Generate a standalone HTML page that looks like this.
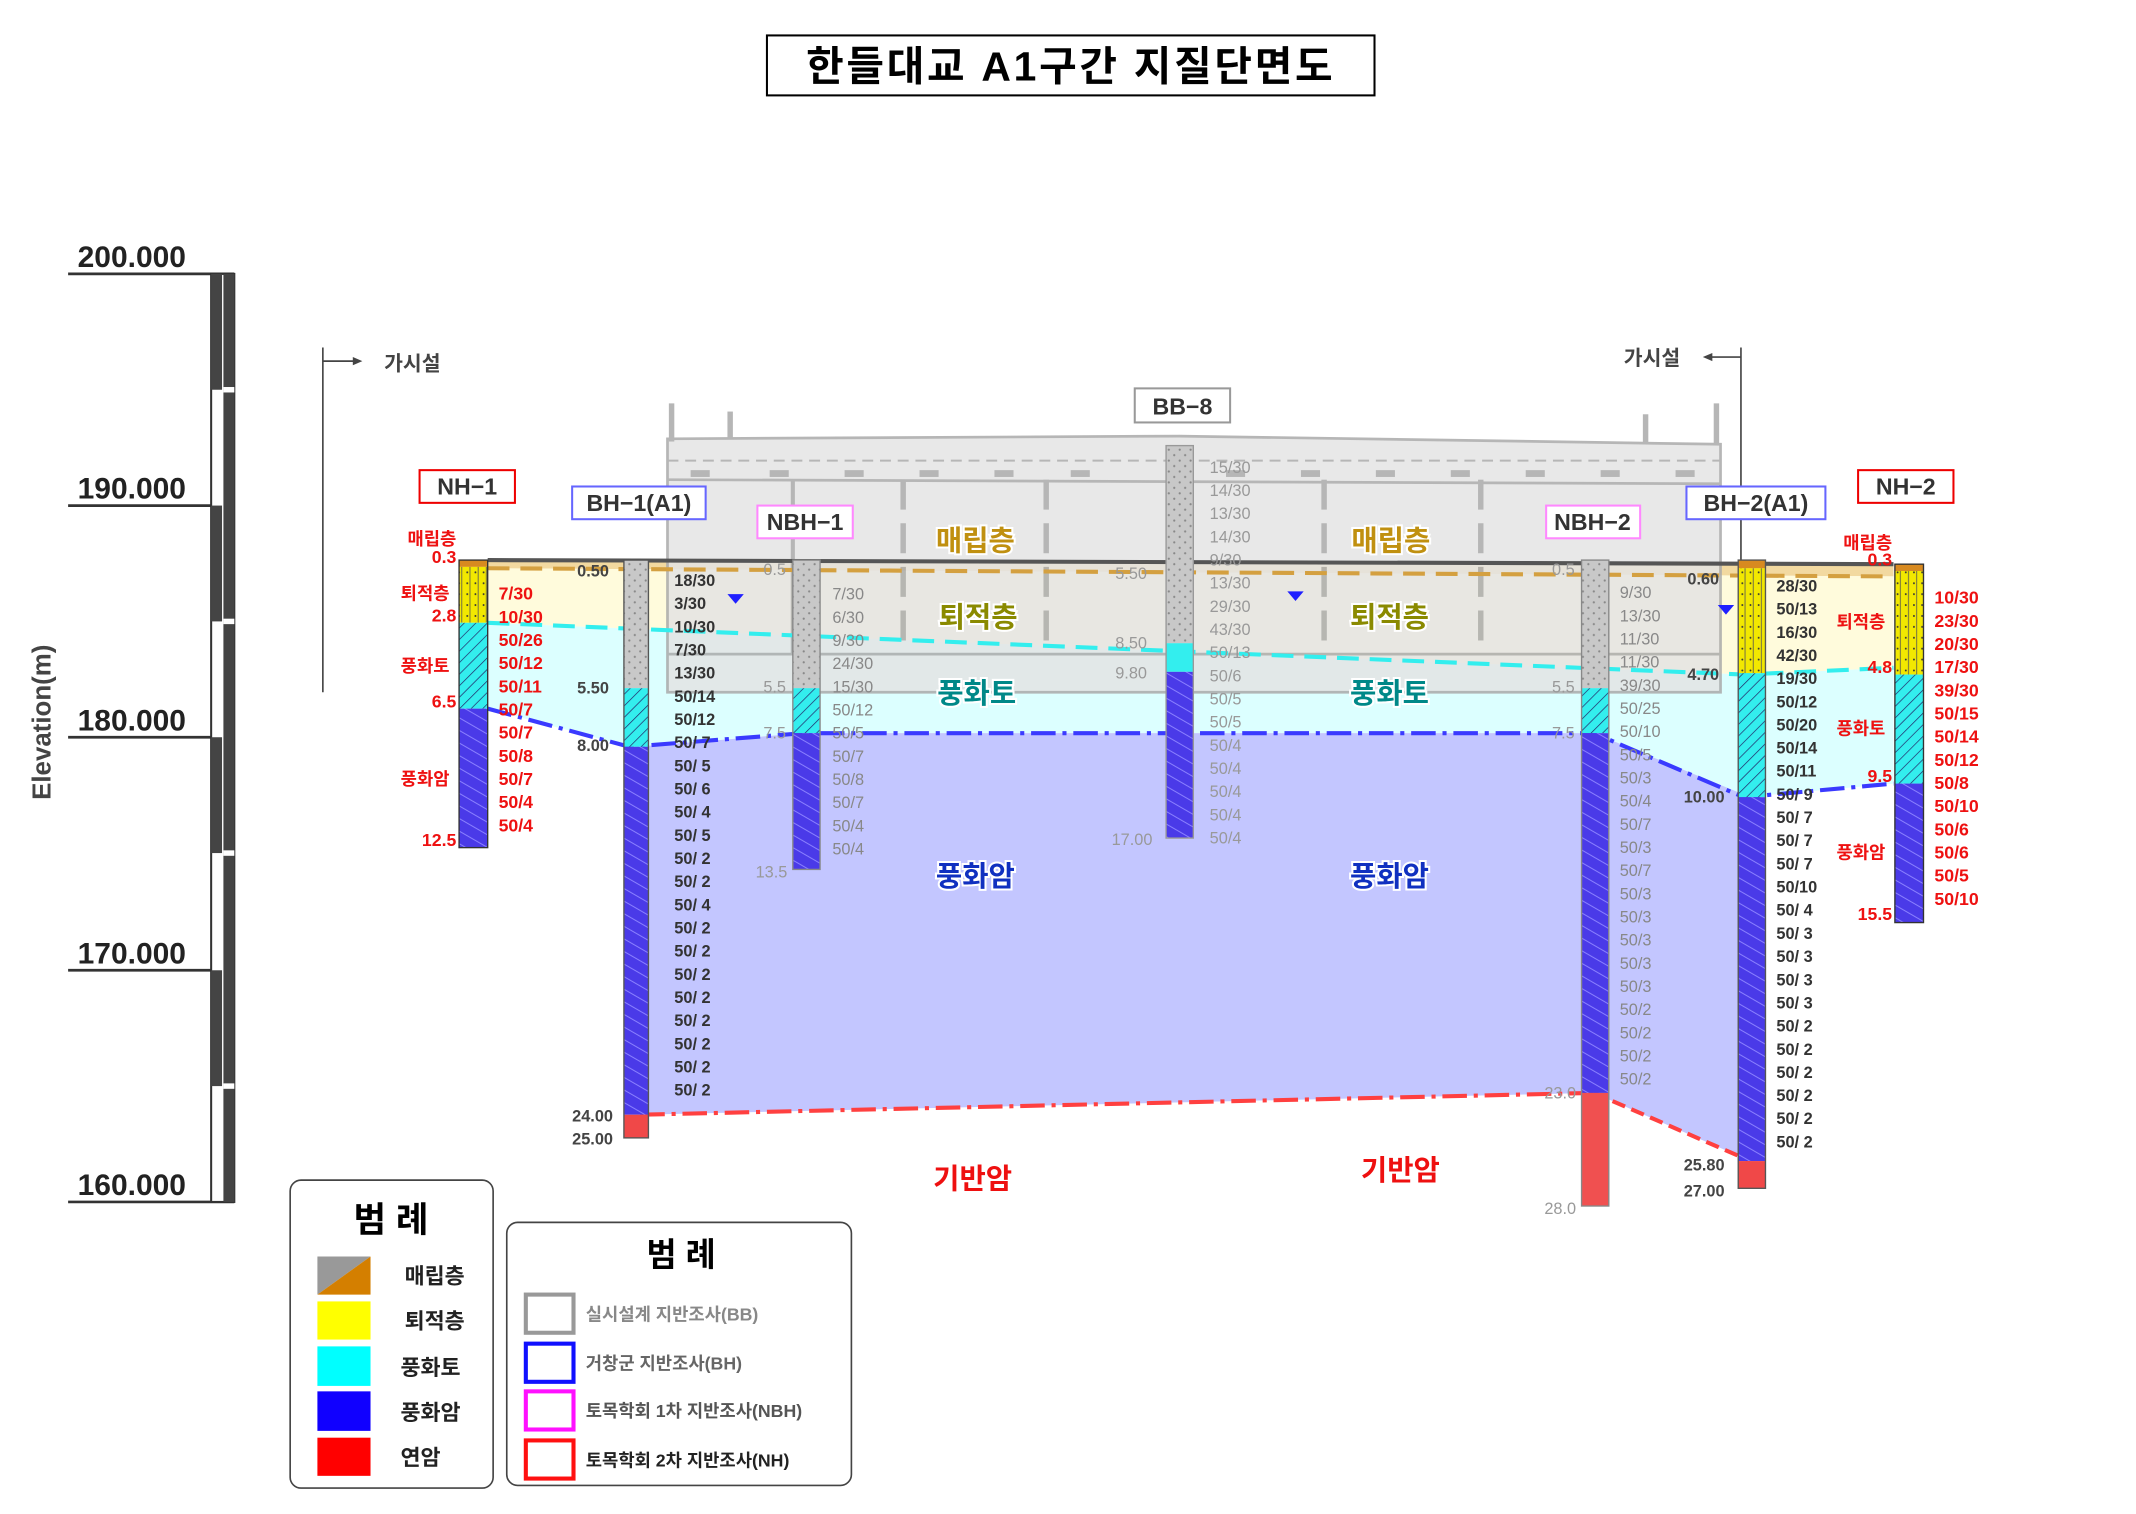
<!DOCTYPE html>
<html><head><meta charset="utf-8"><style>
html,body{margin:0;padding:0;background:#fff;}
svg{display:block;}
text{font-family:"Liberation Sans","Noto Sans CJK KR",sans-serif;}
</style></head><body>
<svg width="2136" height="1514" viewBox="0 0 1568 1111" preserveAspectRatio="none" xmlns="http://www.w3.org/2000/svg">
<defs>
<pattern id="hb" width="8" height="8" patternUnits="userSpaceOnUse" patternTransform="rotate(-60)"><rect width="8" height="8" fill="#4a3ae8"/><line x1="0" y1="0" x2="0" y2="8" stroke="#8a80ff" stroke-width="1.5"/></pattern>
<pattern id="hc" width="6" height="6" patternUnits="userSpaceOnUse" patternTransform="rotate(45)"><rect width="6" height="6" fill="#33eeee"/><line x1="0" y1="0" x2="0" y2="6" stroke="#226" stroke-width="1"/></pattern>
<pattern id="hy" width="6" height="8" patternUnits="userSpaceOnUse"><rect width="6" height="8" fill="#f2e800"/><line x1="3" y1="0" x2="3" y2="8" stroke="#555" stroke-width="0.6"/><circle cx="1" cy="4" r="0.7" fill="#333"/></pattern>
<pattern id="hg" width="8" height="8" patternUnits="userSpaceOnUse"><rect width="8" height="8" fill="#c8c8c8"/><circle cx="2" cy="2" r="0.8" fill="#888"/><circle cx="6" cy="6" r="0.8" fill="#888"/></pattern>
</defs>

<rect x="563" y="26" width="446" height="44" fill="#fff" stroke="#000" stroke-width="1.5"/>
<text x="786" y="59" font-size="30" font-weight="bold" text-anchor="middle" letter-spacing="2">한들대교 A1구간 지질단면도</text>

<g font-size="22" font-weight="bold" fill="#222">
<text x="57" y="196">200.000</text><text x="57" y="366">190.000</text><text x="57" y="536">180.000</text><text x="57" y="707">170.000</text><text x="57" y="877">160.000</text>
</g>
<g stroke="#333" stroke-width="2">
<line x1="50" y1="201" x2="172" y2="201"/><line x1="50" y1="371" x2="172" y2="371"/><line x1="50" y1="541" x2="172" y2="541"/><line x1="50" y1="712" x2="172" y2="712"/><line x1="50" y1="882" x2="172" y2="882"/>
</g>
<rect x="155" y="201" width="17" height="681" fill="#fff" stroke="#333" stroke-width="1.5"/>
<g fill="#444">
<rect x="164" y="201" width="8" height="681"/>
<rect x="155" y="201" width="8" height="85"/><rect x="155" y="371" width="8" height="85"/><rect x="155" y="541" width="8" height="85"/><rect x="155" y="712" width="8" height="85"/>
</g>
<g fill="#fff"><rect x="164" y="284" width="8" height="4"/><rect x="164" y="454" width="8" height="4"/><rect x="164" y="624" width="8" height="4"/><rect x="164" y="795" width="8" height="4"/></g>
<text transform="translate(37,530) rotate(-90)" font-size="19" font-weight="bold" fill="#444" text-anchor="middle">Elevation(m)</text>

<polygon points="358,411 1390,414 1390,423 358,417" fill="#f2d9a0"/>
<polygon points="358,417 1390,423 1390,490 1280,495 358,457" fill="#fffbdc"/>
<polygon points="358,457 1280,495 1390,490 1390,575 1280,585 1170,538 590,538 462,548 358,520" fill="#dcffff"/>
<polygon points="466,548 590,538 1170,538 1285,585 1285,852 1170,802 470,818" fill="#c3c6ff"/>

<g opacity="0.85">
<polygon points="490,322 866,320 1263,326 1263,508 490,508" fill="#e4e4e4" stroke="#aaa" stroke-width="2"/>
<line x1="490" y1="338" x2="1263" y2="338" stroke="#aaa" stroke-width="1.5" stroke-dasharray="8,5"/>
<line x1="490" y1="352" x2="1263" y2="355" stroke="#aaa" stroke-width="2"/>
<line x1="490" y1="480" x2="1263" y2="480" stroke="#aaa" stroke-width="2"/>
<g stroke="#aaa" stroke-width="4" stroke-dasharray="22,10"><line x1="663" y1="352" x2="663" y2="480"/><line x1="768" y1="352" x2="768" y2="480"/><line x1="972" y1="352" x2="972" y2="480"/><line x1="1087" y1="352" x2="1087" y2="480"/></g>
<line x1="582" y1="352" x2="582" y2="480" stroke="#aaa" stroke-width="3"/>
<g fill="#aaa"><rect x="507" y="345" width="14" height="5"/><rect x="565" y="345" width="14" height="5"/><rect x="620" y="345" width="14" height="5"/><rect x="675" y="345" width="14" height="5"/><rect x="730" y="345" width="14" height="5"/><rect x="786" y="345" width="14" height="5"/><rect x="900" y="345" width="14" height="5"/><rect x="955" y="345" width="14" height="5"/><rect x="1010" y="345" width="14" height="5"/><rect x="1065" y="345" width="14" height="5"/><rect x="1120" y="345" width="14" height="5"/><rect x="1175" y="345" width="14" height="5"/><rect x="1230" y="345" width="14" height="5"/></g>
<rect x="491" y="296" width="4" height="28" fill="#aaa"/><rect x="534" y="302" width="4" height="20" fill="#aaa"/>
<rect x="1258" y="296" width="4" height="30" fill="#aaa"/><rect x="1206" y="304" width="4" height="22" fill="#aaa"/>
</g>

<line x1="358" y1="411" x2="1390" y2="414" stroke="#555" stroke-width="3"/>
<polyline points="358,417 1390,423" fill="none" stroke="#d4a040" stroke-width="3" stroke-dasharray="16,8"/>
<polyline points="358,457 1280,495 1390,490" fill="none" stroke="#33eeee" stroke-width="3" stroke-dasharray="16,8"/>
<polyline points="358,520 462,548 590,538 1170,538 1280,585 1390,575" fill="none" stroke="#3a3aff" stroke-width="3" stroke-dasharray="18,5,3,5"/>
<polyline points="470,818 1170,802" fill="none" stroke="#ff4040" stroke-width="3" stroke-dasharray="18,5,3,5"/>
<polyline points="1170,802 1285,852" fill="none" stroke="#ff4040" stroke-width="3" stroke-dasharray="10,5"/>

<g stroke="#444" stroke-width="1.2" fill="none"><line x1="237" y1="255" x2="237" y2="508"/><line x1="237" y1="265" x2="263" y2="265"/><line x1="1278" y1="255" x2="1278" y2="510"/><line x1="1252" y1="262" x2="1278" y2="262"/></g>
<polygon points="266,265 259,262 259,268" fill="#444"/><polygon points="1250,262 1257,259 1257,265" fill="#444"/>
<text x="282" y="272" font-size="15" font-weight="bold" fill="#444">가시설</text>
<text x="1192" y="268" font-size="15" font-weight="bold" fill="#444">가시설</text>

<g font-size="21" font-weight="bold" text-anchor="middle" stroke="#fff" stroke-width="3" paint-order="stroke">
<text x="716" y="404" fill="#c09010">매립층</text><text x="1021" y="404" fill="#c09010">매립층</text>
<text x="718" y="460" fill="#8a8a00">퇴적층</text><text x="1020" y="460" fill="#8a8a00">퇴적층</text>
<text x="717" y="516" fill="#008888">풍화토</text><text x="1020" y="516" fill="#008888">풍화토</text>
<text x="716" y="650" fill="#1030c0">풍화암</text><text x="1020" y="650" fill="#1030c0">풍화암</text>
<text x="714" y="872" fill="#ee1010">기반암</text><text x="1028" y="866" fill="#ee1010">기반암</text>
</g>

<g fill="#2020ff"><polygon points="534,436 546,436 540,443"/><polygon points="945,434 957,434 951,441"/><polygon points="1261,444 1273,444 1267,451"/></g>

<g font-size="17" font-weight="bold" fill="#333" text-anchor="middle">
<rect x="308" y="345" width="70" height="24" fill="#fff" stroke="#e00" stroke-width="1.5"/><text x="343" y="363">NH−1</text>
<rect x="420" y="357" width="98" height="24" fill="#fff" stroke="#66f" stroke-width="1.5"/><text x="469" y="375">BH−1(A1)</text>
<rect x="556" y="371" width="70" height="24" fill="#fff" stroke="#f8f" stroke-width="1.5"/><text x="591" y="389">NBH−1</text>
<rect x="833" y="285" width="70" height="25" fill="#fff" stroke="#999" stroke-width="1.5"/><text x="868" y="304">BB−8</text>
<rect x="1135" y="371" width="69" height="24" fill="#fff" stroke="#f8f" stroke-width="1.5"/><text x="1169" y="389">NBH−2</text>
<rect x="1238" y="357" width="102" height="24" fill="#fff" stroke="#66f" stroke-width="1.5"/><text x="1289" y="375">BH−2(A1)</text>
<rect x="1364" y="345" width="70" height="24" fill="#fff" stroke="#e00" stroke-width="1.5"/><text x="1399" y="363">NH−2</text>
</g>

<rect x="337" y="411" width="21" height="5" fill="#d88a20"/>
<rect x="337" y="416" width="21" height="41" fill="url(#hy)"/>
<rect x="337" y="457" width="21" height="63" fill="url(#hc)"/>
<rect x="337" y="520" width="21" height="102" fill="url(#hb)"/>
<rect x="337" y="411" width="21" height="211" fill="none" stroke="#333" stroke-width="1"/>
<g font-size="13" font-weight="bold" fill="#ee1111" text-anchor="end">
<text x="335" y="400">매립층</text><text x="335" y="413">0.3</text><text x="330" y="440">퇴적층</text><text x="335" y="456">2.8</text><text x="330" y="493">풍화토</text><text x="335" y="519">6.5</text><text x="330" y="576">풍화암</text><text x="335" y="621">12.5</text>
</g>
<text font-size="13" font-weight="bold" fill="#ee1111"><tspan x="366" y="440">7/30</tspan><tspan x="366" dy="17">10/30</tspan><tspan x="366" dy="17">50/26</tspan><tspan x="366" dy="17">50/12</tspan><tspan x="366" dy="17">50/11</tspan><tspan x="366" dy="17">50/7</tspan><tspan x="366" dy="17">50/7</tspan><tspan x="366" dy="17">50/8</tspan><tspan x="366" dy="17">50/7</tspan><tspan x="366" dy="17">50/4</tspan><tspan x="366" dy="17">50/4</tspan></text>

<rect x="458" y="411" width="18" height="94" fill="url(#hg)"/>
<rect x="458" y="505" width="18" height="43" fill="url(#hc)"/>
<rect x="458" y="548" width="18" height="270" fill="url(#hb)"/>
<rect x="458" y="818" width="18" height="17" fill="#f04848"/>
<rect x="458" y="411" width="18" height="424" fill="none" stroke="#555" stroke-width="1"/>
<g font-size="12" font-weight="bold" fill="#444" text-anchor="end"><text x="447" y="423">0.50</text><text x="447" y="509">5.50</text><text x="447" y="551">8.00</text><text x="450" y="823">24.00</text><text x="450" y="840">25.00</text></g>
<text font-size="12" font-weight="bold" fill="#333"><tspan x="495" y="430">18/30</tspan><tspan x="495" dy="17">3/30</tspan><tspan x="495" dy="17">10/30</tspan><tspan x="495" dy="17">7/30</tspan><tspan x="495" dy="17">13/30</tspan><tspan x="495" dy="17">50/14</tspan><tspan x="495" dy="17">50/12</tspan><tspan x="495" dy="17">50/ 7</tspan><tspan x="495" dy="17">50/ 5</tspan><tspan x="495" dy="17">50/ 6</tspan><tspan x="495" dy="17">50/ 4</tspan><tspan x="495" dy="17">50/ 5</tspan><tspan x="495" dy="17">50/ 2</tspan><tspan x="495" dy="17">50/ 2</tspan><tspan x="495" dy="17">50/ 4</tspan><tspan x="495" dy="17">50/ 2</tspan><tspan x="495" dy="17">50/ 2</tspan><tspan x="495" dy="17">50/ 2</tspan><tspan x="495" dy="17">50/ 2</tspan><tspan x="495" dy="17">50/ 2</tspan><tspan x="495" dy="17">50/ 2</tspan><tspan x="495" dy="17">50/ 2</tspan><tspan x="495" dy="17">50/ 2</tspan></text>

<rect x="582" y="411" width="20" height="94" fill="url(#hg)"/>
<rect x="582" y="505" width="20" height="33" fill="url(#hc)"/>
<rect x="582" y="538" width="20" height="100" fill="url(#hb)"/>
<rect x="582" y="411" width="20" height="227" fill="none" stroke="#888" stroke-width="1"/>
<g font-size="12" fill="#999" text-anchor="end"><text x="577" y="422">0.5</text><text x="577" y="508">5.5</text><text x="577" y="542">7.5</text><text x="578" y="644">13.5</text></g>
<text font-size="12" fill="#888"><tspan x="611" y="440">7/30</tspan><tspan x="611" dy="17">6/30</tspan><tspan x="611" dy="17">9/30</tspan><tspan x="611" dy="17">24/30</tspan><tspan x="611" dy="17">15/30</tspan><tspan x="611" dy="17">50/12</tspan><tspan x="611" dy="17">50/5</tspan><tspan x="611" dy="17">50/7</tspan><tspan x="611" dy="17">50/8</tspan><tspan x="611" dy="17">50/7</tspan><tspan x="611" dy="17">50/4</tspan><tspan x="611" dy="17">50/4</tspan></text>

<rect x="856" y="327" width="20" height="145" fill="url(#hg)"/>
<rect x="856" y="472" width="20" height="21" fill="#33eeee"/>
<rect x="856" y="493" width="20" height="122" fill="url(#hb)"/>
<rect x="856" y="327" width="20" height="288" fill="none" stroke="#999" stroke-width="1"/>
<g font-size="12" fill="#999" text-anchor="end"><text x="842" y="425">5.50</text><text x="842" y="476">8.50</text><text x="842" y="498">9.80</text><text x="846" y="620">17.00</text></g>
<text font-size="12" fill="#999"><tspan x="888" y="347">15/30</tspan><tspan x="888" dy="17">14/30</tspan><tspan x="888" dy="17">13/30</tspan><tspan x="888" dy="17">14/30</tspan><tspan x="888" dy="17">9/30</tspan><tspan x="888" dy="17">13/30</tspan><tspan x="888" dy="17">29/30</tspan><tspan x="888" dy="17">43/30</tspan><tspan x="888" dy="17">50/13</tspan><tspan x="888" dy="17">50/6</tspan><tspan x="888" dy="17">50/5</tspan><tspan x="888" dy="17">50/5</tspan><tspan x="888" dy="17">50/4</tspan><tspan x="888" dy="17">50/4</tspan><tspan x="888" dy="17">50/4</tspan><tspan x="888" dy="17">50/4</tspan><tspan x="888" dy="17">50/4</tspan></text>

<rect x="1161" y="411" width="20" height="94" fill="url(#hg)"/>
<rect x="1161" y="505" width="20" height="33" fill="url(#hc)"/>
<rect x="1161" y="538" width="20" height="264" fill="url(#hb)"/>
<rect x="1161" y="802" width="20" height="83" fill="#f05050"/>
<rect x="1161" y="411" width="20" height="474" fill="none" stroke="#888" stroke-width="1"/>
<g font-size="12" fill="#999" text-anchor="end"><text x="1156" y="422">0.5</text><text x="1156" y="508">5.5</text><text x="1156" y="542">7.5</text><text x="1157" y="806">23.0</text><text x="1157" y="891">28.0</text></g>
<text font-size="12" fill="#888"><tspan x="1189" y="439">9/30</tspan><tspan x="1189" dy="17">13/30</tspan><tspan x="1189" dy="17">11/30</tspan><tspan x="1189" dy="17">11/30</tspan><tspan x="1189" dy="17">39/30</tspan><tspan x="1189" dy="17">50/25</tspan><tspan x="1189" dy="17">50/10</tspan><tspan x="1189" dy="17">50/5</tspan><tspan x="1189" dy="17">50/3</tspan><tspan x="1189" dy="17">50/4</tspan><tspan x="1189" dy="17">50/7</tspan><tspan x="1189" dy="17">50/3</tspan><tspan x="1189" dy="17">50/7</tspan><tspan x="1189" dy="17">50/3</tspan><tspan x="1189" dy="17">50/3</tspan><tspan x="1189" dy="17">50/3</tspan><tspan x="1189" dy="17">50/3</tspan><tspan x="1189" dy="17">50/3</tspan><tspan x="1189" dy="17">50/2</tspan><tspan x="1189" dy="17">50/2</tspan><tspan x="1189" dy="17">50/2</tspan><tspan x="1189" dy="17">50/2</tspan></text>

<rect x="1276" y="411" width="20" height="6" fill="#d88a20"/>
<rect x="1276" y="417" width="20" height="77" fill="url(#hy)"/>
<rect x="1276" y="494" width="20" height="91" fill="url(#hc)"/>
<rect x="1276" y="585" width="20" height="267" fill="url(#hb)"/>
<rect x="1276" y="852" width="20" height="20" fill="#f04848"/>
<rect x="1276" y="411" width="20" height="461" fill="none" stroke="#555" stroke-width="1"/>
<g font-size="12" font-weight="bold" fill="#444" text-anchor="end"><text x="1262" y="429">0.60</text><text x="1262" y="499">4.70</text><text x="1266" y="589">10.00</text><text x="1266" y="859">25.80</text><text x="1266" y="878">27.00</text></g>
<text font-size="12" font-weight="bold" fill="#333"><tspan x="1304" y="434">28/30</tspan><tspan x="1304" dy="17">50/13</tspan><tspan x="1304" dy="17">16/30</tspan><tspan x="1304" dy="17">42/30</tspan><tspan x="1304" dy="17">19/30</tspan><tspan x="1304" dy="17">50/12</tspan><tspan x="1304" dy="17">50/20</tspan><tspan x="1304" dy="17">50/14</tspan><tspan x="1304" dy="17">50/11</tspan><tspan x="1304" dy="17">50/ 9</tspan><tspan x="1304" dy="17">50/ 7</tspan><tspan x="1304" dy="17">50/ 7</tspan><tspan x="1304" dy="17">50/ 7</tspan><tspan x="1304" dy="17">50/10</tspan><tspan x="1304" dy="17">50/ 4</tspan><tspan x="1304" dy="17">50/ 3</tspan><tspan x="1304" dy="17">50/ 3</tspan><tspan x="1304" dy="17">50/ 3</tspan><tspan x="1304" dy="17">50/ 3</tspan><tspan x="1304" dy="17">50/ 2</tspan><tspan x="1304" dy="17">50/ 2</tspan><tspan x="1304" dy="17">50/ 2</tspan><tspan x="1304" dy="17">50/ 2</tspan><tspan x="1304" dy="17">50/ 2</tspan><tspan x="1304" dy="17">50/ 2</tspan></text>

<rect x="1391" y="414" width="21" height="5" fill="#d88a20"/>
<rect x="1391" y="419" width="21" height="76" fill="url(#hy)"/>
<rect x="1391" y="495" width="21" height="80" fill="url(#hc)"/>
<rect x="1391" y="575" width="21" height="102" fill="url(#hb)"/>
<rect x="1391" y="414" width="21" height="263" fill="none" stroke="#333" stroke-width="1"/>
<g font-size="13" font-weight="bold" fill="#ee1111" text-anchor="end">
<text x="1389" y="403">매립층</text><text x="1389" y="415">0.3</text><text x="1384" y="461">퇴적층</text><text x="1389" y="494">4.8</text><text x="1384" y="539">풍화토</text><text x="1389" y="574">9.5</text><text x="1384" y="630">풍화암</text><text x="1389" y="675">15.5</text>
</g>
<text font-size="13" font-weight="bold" fill="#ee1111"><tspan x="1420" y="443">10/30</tspan><tspan x="1420" dy="17">23/30</tspan><tspan x="1420" dy="17">20/30</tspan><tspan x="1420" dy="17">17/30</tspan><tspan x="1420" dy="17">39/30</tspan><tspan x="1420" dy="17">50/15</tspan><tspan x="1420" dy="17">50/14</tspan><tspan x="1420" dy="17">50/12</tspan><tspan x="1420" dy="17">50/8</tspan><tspan x="1420" dy="17">50/10</tspan><tspan x="1420" dy="17">50/6</tspan><tspan x="1420" dy="17">50/6</tspan><tspan x="1420" dy="17">50/5</tspan><tspan x="1420" dy="17">50/10</tspan></text>

<rect x="213" y="866" width="149" height="226" rx="8" fill="#fff" stroke="#444" stroke-width="1.2"/>
<text x="287" y="904" font-size="26" font-weight="bold" text-anchor="middle">범 례</text>
<polygon points="233,922 272,922 233,950" fill="#999"/><polygon points="272,922 272,950 233,950" fill="#d47f00"/>
<rect x="233" y="955" width="39" height="28" fill="#ffff00"/>
<rect x="233" y="988" width="39" height="29" fill="#00ffff"/>
<rect x="233" y="1021" width="39" height="29" fill="#1000ff"/>
<rect x="233" y="1055" width="39" height="28" fill="#ff0000"/>
<g font-size="16" font-weight="bold" fill="#222"><text x="297" y="942">매립층</text><text x="297" y="975">퇴적층</text><text x="294" y="1009">풍화토</text><text x="294" y="1042">풍화암</text><text x="294" y="1075">연암</text></g>

<rect x="372" y="897" width="253" height="193" rx="8" fill="#fff" stroke="#444" stroke-width="1.2"/>
<text x="500" y="929" font-size="24" font-weight="bold" text-anchor="middle">범 례</text>
<rect x="386" y="950" width="35" height="28" fill="none" stroke="#999" stroke-width="3"/>
<rect x="386" y="986" width="35" height="28" fill="none" stroke="#1010ff" stroke-width="3"/>
<rect x="386" y="1021" width="35" height="28" fill="none" stroke="#ff10ff" stroke-width="3"/>
<rect x="386" y="1057" width="35" height="28" fill="none" stroke="#ff1010" stroke-width="3"/>
<g font-size="13" font-weight="bold"><text x="430" y="969" fill="#888">실시설계 지반조사(BB)</text><text x="430" y="1005" fill="#666">거창군 지반조사(BH)</text><text x="430" y="1040" fill="#555">토목학회 1차 지반조사(NBH)</text><text x="430" y="1076" fill="#222">토목학회 2차 지반조사(NH)</text></g>
</svg>
</body></html>
